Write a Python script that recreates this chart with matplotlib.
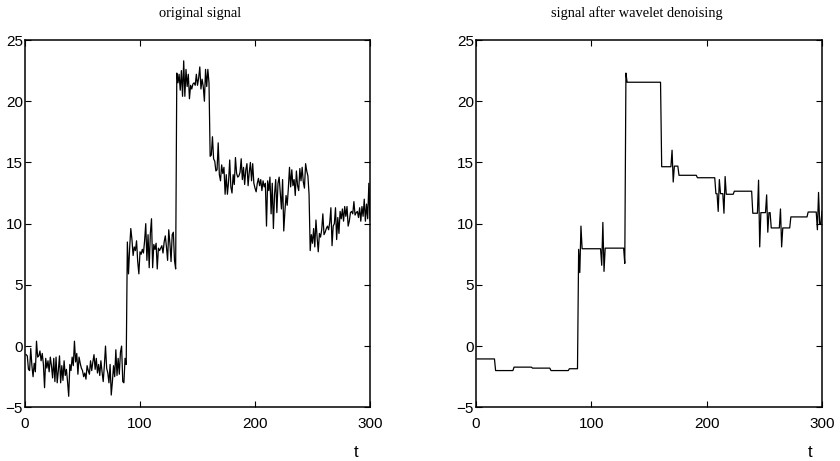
"""Noisy step signal and its wavelet-denoised version, side by side."""

import matplotlib
import matplotlib.pyplot as plt
import numpy as np

matplotlib.use("Agg")

# original signal, t = 1..300
sig_low = [
    -0.7, -0.8, -1.9, -2.0, -0.2, -1.6, -2.5, -1.4, -2.1, 0.4,
    -0.9, -0.8, -0.4, -1.2, -0.6, -1.5, -3.4, -1.0, -1.8, -1.2,
    -2.1, -0.9, -1.6, -2.6, -1.0, -2.9, -0.9, -3.0, -2.0, -0.8,
    -3.0, -1.6, -2.8, -1.2, -2.4, -1.9, -2.9, -4.1, -1.5, -2.0,
    -0.9, -1.6, 0.4, -1.3, -0.6, -2.3, -0.9, -1.4, -1.8, -2.0,
    -2.5, -2.2, -2.7, -1.6, -2.0, -2.3, -1.2, -2.0, -1.3, -0.7,
    -1.9, -1.0, -2.2, -1.5, -2.4, -1.2, -2.1, -2.9, -1.6, 0.0,
    -1.8, -2.2, -3.0, -1.5, -4.0, -2.9, -1.6, -2.5, -0.3, -2.4,
    -1.0, -2.3, -0.5, 0.0, -2.9, -3.0, -1.0, -1.5,
]
sig_mid = [
    8.5, 5.9, 8.0, 9.6, 8.7, 7.4, 8.1, 7.8, 8.6, 6.9,
    5.9, 7.7, 7.5, 7.9, 7.6, 8.6, 10.0, 7.0, 9.1, 6.4,
    9.2, 10.4, 6.4, 8.3, 7.9, 8.4, 6.3, 8.0, 7.8, 8.0,
    8.2, 7.6, 8.5, 9.0, 8.1, 7.0, 9.5, 8.4, 6.9, 9.1,
    9.3, 7.0, 6.3,
]
sig_high = [
    22.3, 21.5, 22.2, 20.9, 22.5, 20.4, 23.3, 20.4, 22.6, 21.2,
    22.2, 20.2, 21.3, 21.0, 21.4, 21.5, 21.3, 22.2, 21.3, 21.9,
    22.8, 21.0, 21.8, 21.2, 20.0, 22.6, 21.2, 22.6, 21.5,
]
sig_drop = [
    15.5, 15.6, 17.1, 15.3, 15.1, 14.3, 14.4, 16.6, 14.0, 13.5,
    14.8, 14.1, 14.6, 12.4, 14.0, 12.4, 13.4, 15.2, 13.0, 12.5,
    14.0, 13.2, 15.4, 14.1, 13.8, 13.9, 14.2, 15.3, 13.6, 14.6,
    13.2, 14.4, 14.9, 13.1, 14.2, 15.0, 13.5, 14.9, 13.3, 12.9,
    12.6, 13.3, 13.7, 13.1, 13.6, 12.7, 13.5, 13.0, 13.3, 9.8,
    13.5, 12.7, 13.8, 10.8, 13.3, 9.6, 12.4, 13.6, 10.9, 13.3,
    13.8, 12.5, 11.2, 13.6, 9.4, 11.0, 12.3, 11.5, 12.9, 14.6,
    13.0, 14.4, 13.1, 13.6, 12.3, 14.3, 13.1, 12.7, 14.5, 13.5,
    14.6, 13.4, 12.9, 14.9, 14.3, 13.9, 12.4,
]
sig_end = [
    7.8, 9.1, 8.4, 9.6, 8.1, 10.3, 8.9, 7.7, 9.2, 8.9,
    9.5, 10.8, 9.1, 9.3, 9.6, 9.8, 9.5, 10.1, 11.3, 8.2,
    9.8, 10.0, 11.3, 8.7, 10.5, 9.2, 11.0, 10.4, 11.2, 10.2,
    11.4, 10.6, 11.4, 9.8, 10.2, 10.9, 11.0, 10.8, 11.8, 10.7,
    10.9, 11.0, 10.5, 11.3, 10.2, 11.4, 10.6, 12.0, 10.2, 11.6,
    10.4, 13.3, 10.3,
]

# denoised signal as runs: level and how many samples it holds
den_levels = [
    -1.05, -2.0, -1.72, -1.8, -2.0, -1.85,
    7.9, 6.0, 9.8, 7.95, 6.6, 10.1, 6.1, 8.0, 6.75, 22.3, 21.55,
    14.65, 16.0, 13.4, 14.7, 13.95, 13.75,
    12.45, 11.0, 13.6, 12.45, 10.85, 13.85, 12.4, 12.65,
    10.85, 13.55, 8.1, 10.9, 12.35, 9.3, 10.9, 9.65, 11.2, 8.1, 9.65,
    10.55, 10.95, 9.5, 12.55, 10.0, 11.0,
]
den_counts = [
    16, 16, 16, 16, 16, 8,
    1, 1, 1, 17, 1, 1, 1, 17, 1, 1, 30,
    9, 1, 1, 4, 16, 16,
    2, 1, 1, 3, 1, 1, 7, 16,
    5, 1, 1, 5, 1, 1, 2, 8, 1, 1, 7,
    15, 8, 1, 1, 2, 1,
]

titles = ["original signal", "signal after wavelet denoising"]
x_ticks = [0, 100, 200, 300]
y_ticks = [-5, 0, 5, 10, 15, 20, 25]


def style_axes(ax):
    ax.set_xlim(0, 300)
    ax.set_ylim(-5, 25)
    ax.set_xticks(x_ticks)
    ax.set_yticks(y_ticks)
    ax.set_yticklabels([str(v).replace("-", "\u2212") for v in y_ticks])
    ax.tick_params(direction="in", top=True, right=True, length=4,
                   width=0.8, labelsize=11)
    ax.tick_params(axis="x", pad=7)
    ax.tick_params(axis="y", pad=1.5)
    for lab in ax.get_xticklabels() + ax.get_yticklabels():
        lab.set_family("Liberation Sans")
    for sp in ax.spines.values():
        sp.set_linewidth(1.1)


original = np.concatenate([sig_low, sig_mid, sig_high, sig_drop, sig_end])
denoised = np.repeat(den_levels, den_counts)
t_orig = np.arange(1, len(original) + 1)
t_den = np.arange(1, len(denoised) + 1)

fig = plt.figure(figsize=(8.4, 4.61), dpi=100)
ax1 = fig.add_axes([25 / 840, 1 - 407.3 / 461, 345 / 840, 367.3 / 461])
ax2 = fig.add_axes([476 / 840, 1 - 407.3 / 461, 346 / 840, 367.3 / 461])

ax1.plot(t_orig, original, color="black", lw=0.9)
ax2.plot(t_den, denoised, color="black", lw=0.9)

for ax in (ax1, ax2):
    style_axes(ax)

fig.text(200 / 840, 1 - 13 / 461, titles[0], ha="center", va="center",
         family="Liberation Serif", fontsize=10.4)
fig.text(637 / 840, 1 - 13 / 461, titles[1], ha="center", va="center",
         family="Liberation Serif", fontsize=10.4)
fig.text(356 / 840, 1 - 452 / 461, "t", ha="center", va="center",
         family="Liberation Sans", fontsize=12)
fig.text(810 / 840, 1 - 452 / 461, "t", ha="center", va="center",
         family="Liberation Sans", fontsize=12)

fig.savefig("out.png", dpi=100)
